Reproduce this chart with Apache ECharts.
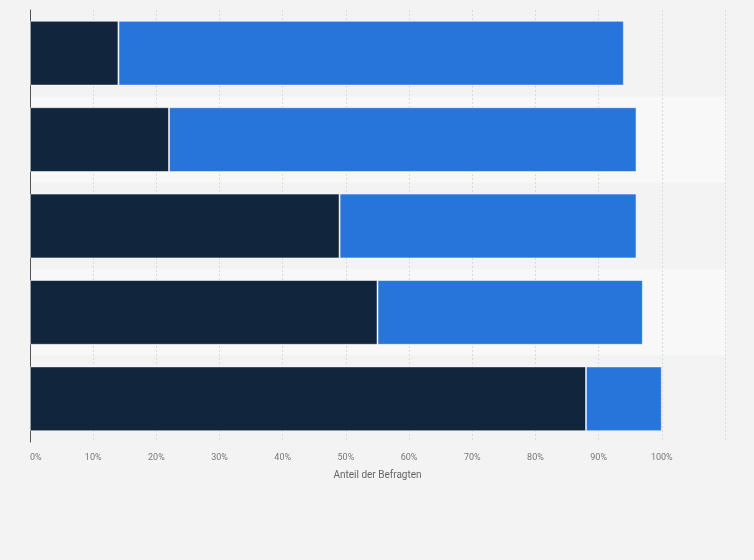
<!DOCTYPE html>
<html lang="de">
<head>
    <meta charset="UTF-8">
    <title>Anteil der Befragten</title>
    <style>
        html,body{
            height: 100%;
        }
        body{
            margin: 0;
            padding: 0;
            background: #f3f3f3;
        }
        #chart_bar{
            width: 754px;
            height: 560px;
        }
    </style>
</head>
<body>
    <div id="chart_bar"></div>
</body>
</html>
<script src="https://cdn.jsdelivr.net/npm/echarts@6/dist/echarts.min.js"></script>
<script>
    // Daten (von oben nach unten)
    var categories = ['Gruppe 1', 'Gruppe 2', 'Gruppe 3', 'Gruppe 4', 'Gruppe 5'];
    var darkValues = [14, 22, 49, 55, 88];
    var blueValues = [80, 74, 47, 42, 12];
    var xTicks = [0, 10, 20, 30, 40, 50, 60, 70, 80, 90, 100];

    var myChart = echarts.init(document.getElementById('chart_bar'));

    var barStyle = function (color) {
        return {
            color: color,
            borderColor: 'rgba(255,255,255,0.5)',
            borderWidth: 1
        };
    };

    myChart.setOption({
        backgroundColor: '#f3f3f3',
        animation: false,
        grid: {
            left: 30,
            right: 29,
            top: 10,
            bottom: 118
        },
        xAxis: {
            type: 'value',
            min: 0,
            max: 110,
            interval: 10,
            name: 'Anteil der Befragten',
            nameLocation: 'middle',
            nameGap: 28,
            nameTextStyle: {
                color: '#666',
                fontSize: 10,
                fontFamily: 'Roboto'
            },
            axisLine: { show: false },
            axisTick: { show: false },
            axisLabel: {
                color: '#777',
                fontSize: 9,
                fontFamily: 'Roboto',
                margin: 11,
                alignMinLabel: 'left',
                formatter: function (v) {
                    return xTicks.indexOf(v) >= 0 ? v + '%' : '';
                }
            },
            splitLine: {
                show: true,
                lineStyle: { color: '#dadada', type: [2, 2], width: 1 }
            }
        },
        yAxis: {
            type: 'category',
            data: categories,
            inverse: true,
            axisLine: {
                show: true,
                lineStyle: { color: '#555', width: 1 }
            },
            axisTick: { show: false },
            axisLabel: { show: false },
            splitArea: {
                show: true,
                areaStyle: { color: ['rgba(0,0,0,0)', '#f8f8f8'] }
            }
        },
        series: [{
            type: 'bar',
            stack: 'gesamt',
            data: darkValues,
            barWidth: '75%',
            itemStyle: barStyle('#11263c')
        }, {
            type: 'bar',
            stack: 'gesamt',
            data: blueValues,
            barWidth: '75%',
            itemStyle: barStyle('#2775db')
        }]
    });
</script>
